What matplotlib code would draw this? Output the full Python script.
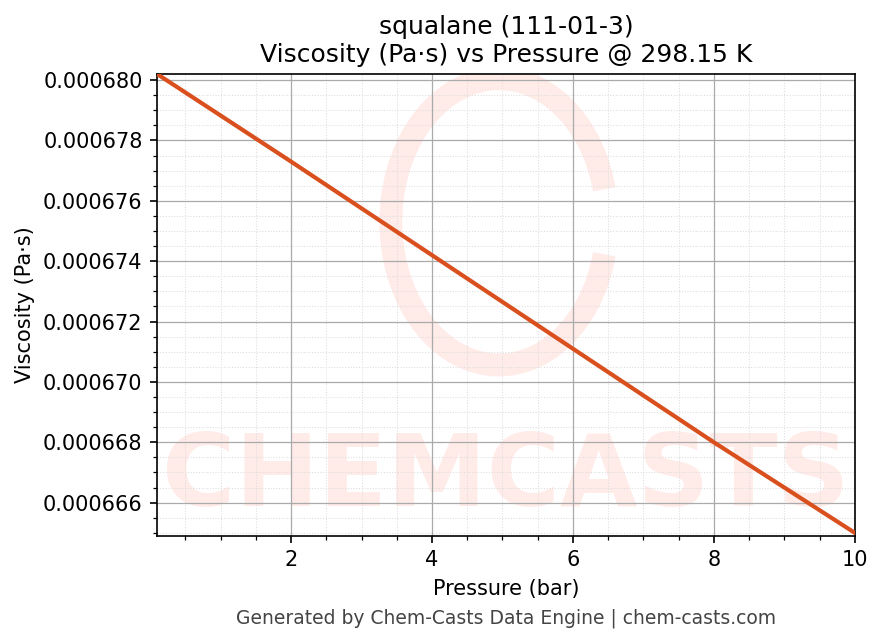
import matplotlib
matplotlib.use("Agg")
import matplotlib.pyplot as plt
from matplotlib.ticker import AutoMinorLocator, FormatStrFormatter
from matplotlib.patches import Arc

# data (linear trend)
pressure_bar = [0.1, 2.0, 4.0, 6.0, 8.0, 10.0]
viscosity_pas = [0.0006802, 0.0006773, 0.0006742, 0.0006711, 0.0006680, 0.0006650]

fig, ax = plt.subplots(figsize=(8.83 / 1.5, 6.44 / 1.5), dpi=150)

# watermark
ax.text(0.5, 0.125, "CHEMCASTS", transform=ax.transAxes, ha="center", va="center",
        fontsize=48, fontweight="bold", color="#ff3b1f", alpha=0.1, zorder=0,
        clip_on=True)
ax.add_patch(Arc((0.49, 0.68), 0.31, 0.62, angle=0, theta1=25, theta2=335,
                 transform=ax.transAxes, color="#ff3b1f", alpha=0.1, lw=11, zorder=0))

ax.plot(pressure_bar, viscosity_pas, color="#d9501e", lw=2, zorder=3)

ax.set_xlim(0.1, 10)
ax.set_ylim(0.0006649, 0.0006802)
ax.yaxis.set_major_formatter(FormatStrFormatter("%.6f"))
ax.xaxis.set_minor_locator(AutoMinorLocator(4))
ax.yaxis.set_minor_locator(AutoMinorLocator(4))
ax.grid(which="major", color="#aaaaaa", lw=0.6)
ax.grid(which="minor", color="#dddddd", lw=0.5, ls=":")
ax.tick_params(which="both", direction="out")

ax.set_title("squalane (111-01-3)\nViscosity (Pa·s) vs Pressure @ 298.15 K", fontsize=12)
ax.set_xlabel("Pressure (bar)")
ax.set_ylabel("Viscosity (Pa·s)")

fig.subplots_adjust(left=0.178, right=0.968, top=0.885, bottom=0.168)
fig.text(0.573, 0.04, "Generated by Chem-Casts Data Engine | chem-casts.com",
         ha="center", va="center", fontsize=9, color="#444444")

fig.savefig("out.png")
